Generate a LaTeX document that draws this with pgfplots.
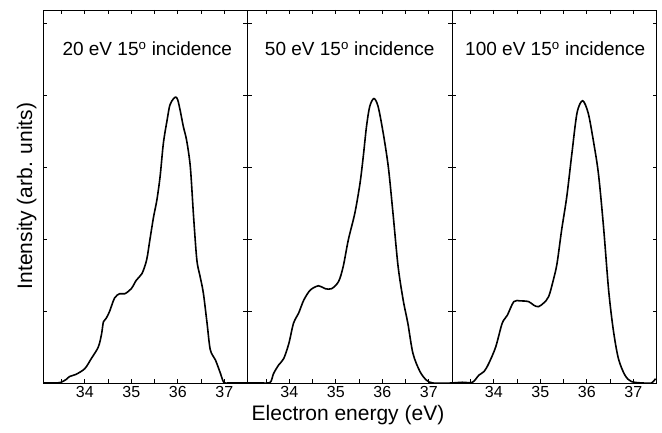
\documentclass[border=0pt]{standalone}
\usepackage{fontspec}
\setmainfont{Liberation Sans}
\usepackage{pgfplots}
\pgfplotsset{compat=1.18}
\usepackage{pgfplotstable}

\pgfplotstableread{
x y
33.10 0
33.40 0
33.49 0.01
33.60 0.05
33.67 0.09
33.81 0.12
34.00 0.20
34.14 0.34
34.29 0.50
34.36 0.68
34.40 0.85
34.46 0.90
34.53 0.99
34.64 1.18
34.75 1.24
34.86 1.24
35.00 1.31
35.11 1.43
35.23 1.52
35.33 1.71
35.40 1.99
35.48 2.31
35.55 2.54
35.62 2.87
35.69 3.33
35.77 3.65
35.83 3.86
35.91 3.95
35.96 3.97
36.00 3.93
36.05 3.79
36.12 3.56
36.19 3.37
36.27 3.00
36.34 2.31
36.41 1.71
36.48 1.48
36.55 1.25
36.63 0.83
36.70 0.46
36.81 0.32
36.92 0.13
36.99 0.01
37.10 0
37.50 0
}\dataA

\pgfplotstableread{
x y
33.10 0
33.40 0
33.59 0.01
33.66 0.13
33.77 0.25
33.88 0.34
33.99 0.55
34.09 0.83
34.20 0.97
34.31 1.15
34.45 1.29
34.63 1.35
34.77 1.31
34.91 1.31
35.06 1.41
35.16 1.62
35.27 1.99
35.41 2.36
35.52 2.77
35.59 3.14
35.66 3.56
35.73 3.84
35.82 3.95
35.91 3.84
36.02 3.47
36.13 3.00
36.23 2.36
36.34 1.62
36.45 1.15
36.55 0.83
36.66 0.41
36.81 0.16
36.95 0.04
37.09 0
37.50 0
}\dataB

\pgfplotstableread{
x y
33.10 0
33.32 0.01
33.54 0.01
33.68 0.11
33.79 0.16
33.89 0.27
34.04 0.50
34.18 0.83
34.29 0.94
34.43 1.13
34.57 1.14
34.75 1.13
34.86 1.08
34.96 1.06
35.07 1.11
35.18 1.20
35.28 1.43
35.36 1.66
35.46 2.13
35.57 2.59
35.68 3.19
35.79 3.75
35.91 3.92
36.03 3.75
36.14 3.37
36.25 2.91
36.36 2.17
36.47 1.29
36.57 0.74
36.68 0.34
36.82 0.11
36.96 0.02
37.21 0
37.39 0
37.48 0.06
}\dataC

\newcommand\tickfont{\fontsize{16}{19}\selectfont}

\pgfplotsset{
  panel/.style={
    scale only axis,
    width=204.5pt, height=373pt,
    anchor=south west,
    xmin=33.1, xmax=37.5,
    ymin=0, ymax=5.18,
    xtick={34,35,36,37},
    xticklabels={{\tickfont 34},{\tickfont 35},{\tickfont 36},{\tickfont 37}},
    minor xtick={33.5,34.5,35.5,36.5},
    ytick={1,2,3,4,5},
    yticklabels={},
    tick align=inside,
    major tick length=4pt,
    minor tick length=4pt,
    tick style={black, line width=0.8pt},
    axis line style={line width=0.9pt},
    xticklabel style={inner sep=0pt, yshift=-3.5pt, anchor=north},
    clip=true,
  },
  curve/.style={black, line width=1.6pt, smooth, tension=0.5, no marks},
}

\begin{document}
\begin{tikzpicture}
\begin{axis}[panel, at={(43pt,49pt)}]
\addplot[curve] table[x=x,y=y] {\dataA};
\node[anchor=base, font=\fontsize{19}{23}\selectfont] at (rel axis cs:0.51,0.877) {20 eV 15\textsuperscript{o} incidence};
\end{axis}
\begin{axis}[panel, at={(247.5pt,49pt)}]
\addplot[curve] table[x=x,y=y] {\dataB};
\node[anchor=base, font=\fontsize{19}{23}\selectfont] at (rel axis cs:0.5,0.877) {50 eV 15\textsuperscript{o} incidence};
\end{axis}
\begin{axis}[panel, at={(452pt,49pt)}]
\addplot[curve] table[x=x,y=y] {\dataC};
\node[anchor=base, font=\fontsize{19}{23}\selectfont] at (rel axis cs:0.505,0.877) {100 eV 15\textsuperscript{o} incidence};
\end{axis}
\node[anchor=base, font=\fontsize{21}{25}\selectfont] at (348pt,12pt) {Electron energy (eV)};
\node[anchor=base, rotate=90, font=\fontsize{21}{25}\selectfont] at (32pt,236pt) {Intensity (arb. units)};
\pgfresetboundingbox
\useasboundingbox (0pt,0pt) rectangle (662pt,432pt);
\end{tikzpicture}
\end{document}
